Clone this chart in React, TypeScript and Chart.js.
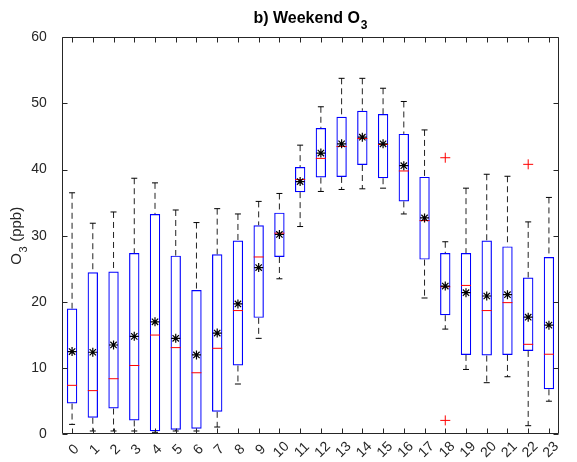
import React, { useEffect, useRef } from "react";
import { Chart, registerables } from "chart.js";

Chart.register(...registerables);

// ---- data (ppb) ----
const hours = ["0", "1", "2", "3", "4", "5", "6", "7", "8", "9", "10", "11", "12", "13", "14", "15", "16", "17", "18", "19", "20", "21", "22", "23"];
const q1 = [4.65, 2.5, 3.9, 2.1, 0.45, 0.7, 0.85, 3.4, 10.4, 17.6, 26.8, 36.6, 38.8, 38.9, 40.7, 38.7, 35.2, 26.4, 18.0, 12.0, 11.9, 12.0, 12.6, 6.8];
const q3 = [19.0, 24.5, 24.6, 27.4, 33.3, 27.0, 21.8, 27.2, 29.3, 31.6, 33.5, 40.4, 46.3, 48.0, 48.9, 48.4, 45.4, 38.9, 27.4, 27.4, 29.3, 28.4, 23.7, 26.8];
const medians = [7.4, 6.6, 8.4, 10.4, 15.0, 13.1, 9.3, 13.0, 18.7, 26.8, 30.4, 38.5, 41.7, 43.5, 44.7, 43.8, 39.8, 32.3, 22.3, 22.5, 18.7, 19.9, 13.6, 12.1];
const means = [12.5, 12.4, 13.5, 14.8, 17.0, 14.5, 12.0, 15.3, 19.7, 25.2, 30.2, 38.2, 42.5, 43.9, 44.9, 43.9, 40.6, 32.7, 22.4, 21.4, 20.9, 21.1, 17.7, 16.5];
const whiskerLow = [1.5, 0.5, 0.5, 0.5, 0.3, 0.5, 0.5, 1.1, 7.6, 14.5, 23.5, 31.4, 36.7, 37.0, 37.1, 37.2, 33.3, 20.6, 15.9, 9.8, 7.8, 8.7, 1.3, 5.0];
const whiskerHigh = [36.5, 31.9, 33.6, 38.7, 38.0, 33.9, 32.0, 34.1, 33.3, 35.2, 36.4, 43.7, 49.5, 53.8, 53.8, 52.3, 50.3, 46.0, 29.1, 37.2, 39.3, 39.0, 32.1, 35.8];
const outlierHours = ["18", "18", "22"];
const outlierValues = [41.8, 2.1, 40.8];
const yTicks = [0, 10, 20, 30, 40, 50, 60];

const titleMain = "b) Weekend O";
const titleSub = "3";
const yLabelMain = "O";
const yLabelSub = "3";
const yLabelRest = " (ppb)";

const AXIS = "#262626";
const FONT = "'Liberation Sans', Arial, Helvetica, sans-serif";

const matlabAxes = {
  id: "matlabAxes",
  afterDraw(chart: any) {
    const { ctx, chartArea: a, scales } = chart;
    const xs = scales.x;
    const ys = scales.y;
    const L = Math.round(a.left) + 0.5;
    const R = Math.round(a.right) - 0.5;
    const T = Math.round(a.top) + 0.5;
    const B = Math.round(a.bottom) - 0.5;
    ctx.save();
    ctx.strokeStyle = AXIS;
    ctx.lineWidth = 1;
    ctx.setLineDash([]);
    ctx.beginPath();
    ctx.rect(L, T, R - L, B - T);
    yTicks.forEach((v) => {
      const y = Math.round(ys.getPixelForValue(v)) + 0.5;
      ctx.moveTo(L, y);
      ctx.lineTo(L + 5, y);
      ctx.moveTo(R, y);
      ctx.lineTo(R - 5, y);
    });
    hours.forEach((h, i) => {
      const x = Math.round(xs.getPixelForValue(i)) + 0.5;
      ctx.moveTo(x, B);
      ctx.lineTo(x, B - 5);
      ctx.moveTo(x, T);
      ctx.lineTo(x, T + 5);
    });
    ctx.stroke();

    // x tick labels, rotated 45 deg about their centre
    ctx.fillStyle = AXIS;
    ctx.font = `14px ${FONT}`;
    ctx.textAlign = "center";
    ctx.textBaseline = "middle";
    hours.forEach((h, i) => {
      const x = xs.getPixelForValue(i) + 2;
      ctx.save();
      ctx.translate(x, a.bottom + 15.5);
      ctx.rotate(-Math.PI / 4);
      ctx.fillText(h, 0, 0);
      ctx.restore();
    });

    // title with subscript
    ctx.textAlign = "left";
    ctx.textBaseline = "alphabetic";
    ctx.fillStyle = "#000";
    ctx.font = `bold 16px ${FONT}`;
    const tw = ctx.measureText(titleMain).width;
    ctx.font = `bold 12px ${FONT}`;
    const sw = ctx.measureText(titleSub).width;
    const tx = (a.left + a.right) / 2 - (tw + sw + 1) / 2;
    ctx.font = `bold 16px ${FONT}`;
    ctx.fillText(titleMain, tx, 23);
    ctx.font = `bold 12px ${FONT}`;
    ctx.fillText(titleSub, tx + tw + 1, 29);

    // y axis label with subscript
    ctx.fillStyle = AXIS;
    ctx.font = `15px ${FONT}`;
    const w1 = ctx.measureText(yLabelMain).width;
    const w3 = ctx.measureText(yLabelRest).width;
    ctx.font = `11px ${FONT}`;
    const w2 = ctx.measureText(yLabelSub).width;
    const total = w1 + w2 + 1 + w3;
    ctx.save();
    ctx.translate(20.5, (a.top + a.bottom) / 2);
    ctx.rotate(-Math.PI / 2);
    let cx = -total / 2;
    ctx.font = `15px ${FONT}`;
    ctx.fillText(yLabelMain, cx, 0);
    cx += w1 + 0.5;
    ctx.font = `11px ${FONT}`;
    ctx.fillText(yLabelSub, cx, 6);
    cx += w2 + 0.5;
    ctx.font = `15px ${FONT}`;
    ctx.fillText(yLabelRest, cx, 0);
    ctx.restore();

    ctx.restore();
  },
};

export default function App() {
  const ref = useRef<HTMLCanvasElement | null>(null);

  useEffect(() => {
    if (!ref.current) return;
    const upperWhisker: any[] = [];
    const lowerWhisker: any[] = [];
    const capData: any[] = [];
    hours.forEach((h, i) => {
      upperWhisker.push({ x: h, y: whiskerHigh[i] });
      upperWhisker.push({ x: h, y: q3[i] });
      upperWhisker.push({ x: h, y: null });
      lowerWhisker.push({ x: h, y: q1[i] });
      lowerWhisker.push({ x: h, y: whiskerLow[i] });
      lowerWhisker.push({ x: h, y: null });
      capData.push({ x: h, y: whiskerHigh[i] });
      capData.push({ x: h, y: whiskerLow[i] });
    });
    const outlierData = outlierHours.map((h, i) => ({ x: h, y: outlierValues[i] }));

    const whiskerStyle = {
      type: "line",
      borderColor: "#222",
      borderWidth: 1,
      borderDash: [6, 4],
      pointRadius: 0,
      spanGaps: false,
      fill: false,
      order: 4,
    };

    const chart = new Chart(ref.current, {
      type: "bar",
      data: {
        labels: hours,
        datasets: [
          {
            type: "bar",
            label: "IQR",
            data: q1.map((v, i) => [v, q3[i]]),
            backgroundColor: "rgba(255,255,255,0)",
            borderColor: "#0000ff",
            borderWidth: 1.2,
            borderSkipped: false,
            barPercentage: 0.5,
            categoryPercentage: 1,
            order: 5,
          } as any,
          { ...whiskerStyle, label: "upper whisker", data: upperWhisker } as any,
          { ...whiskerStyle, label: "lower whisker", data: lowerWhisker } as any,
          {
            type: "line",
            label: "caps",
            data: capData,
            showLine: false,
            pointStyle: "line",
            pointRadius: 3,
            pointBorderColor: "#000",
            pointBorderWidth: 1,
            order: 3,
          } as any,
          {
            type: "line",
            label: "median",
            data: medians,
            showLine: false,
            pointStyle: "line",
            pointRadius: 5,
            pointBorderColor: "#ff0000",
            pointBorderWidth: 1,
            order: 2,
          } as any,
          {
            type: "line",
            label: "mean",
            data: means,
            showLine: false,
            pointStyle: "star",
            pointRadius: 4.5,
            pointBorderColor: "#000",
            pointBackgroundColor: "#000",
            pointBorderWidth: 1.2,
            order: 1,
          } as any,
          {
            type: "line",
            label: "outliers",
            data: outlierData,
            showLine: false,
            pointStyle: "cross",
            pointRadius: 5,
            pointBorderColor: "#ff0000",
            pointBorderWidth: 1,
            order: 1,
          } as any,
        ],
      },
      options: {
        animation: false,
        responsive: true,
        maintainAspectRatio: false,
        layout: { padding: { top: 37.3, right: 17.7, bottom: 0, left: 0 } },
        plugins: {
          legend: { display: false },
          tooltip: { enabled: false },
          title: { display: false },
        },
        scales: {
          x: {
            type: "category",
            offset: true,
            grid: { display: false },
            border: { display: false },
            ticks: { display: false },
            afterFit: (s: any) => {
              s.height = 27.7;
            },
          },
          y: {
            min: 0,
            max: 60,
            grid: { display: false },
            border: { display: false },
            ticks: {
              stepSize: 10,
              padding: 7,
              color: AXIS,
              font: { family: FONT, size: 14 },
            },
            afterFit: (s: any) => {
              s.width = 61.7;
            },
          },
        },
      } as any,
      plugins: [matlabAxes],
    });
    return () => chart.destroy();
  }, []);

  return (
    <div style={{ position: "absolute", left: 0, top: 0, width: 577, height: 462, background: "#fff" }}>
      <canvas ref={ref} />
    </div>
  );
}
